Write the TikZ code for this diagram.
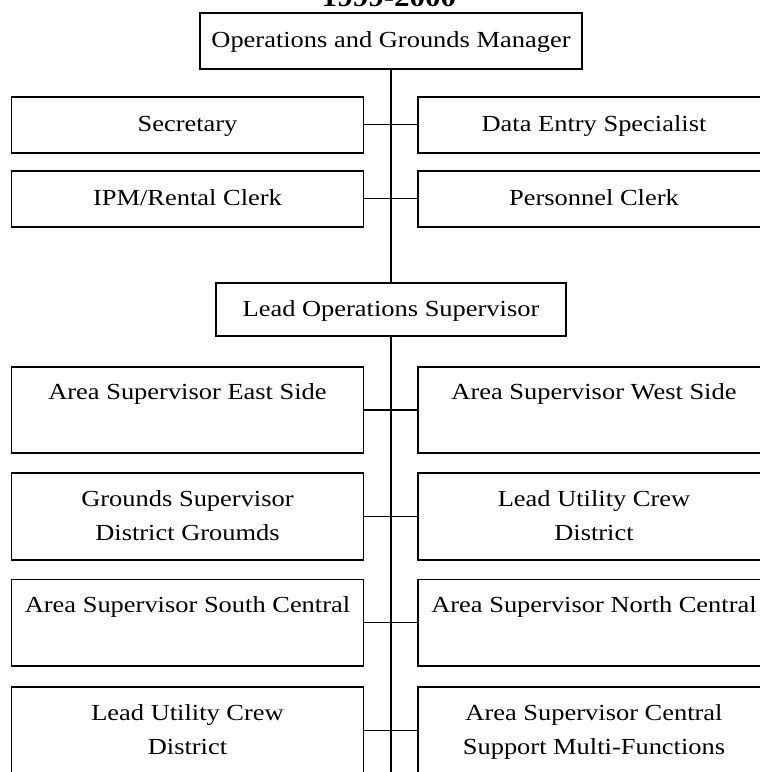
\documentclass[tikz,border=0pt]{standalone}
\usepackage{fontspec}
\setmainfont{Liberation Serif}[FakeStretch=1.15]
\begin{document}
\begin{tikzpicture}[x=1pt,y=-1pt,
  box/.style={draw=black, line width=1.7pt, inner sep=0pt, align=center,
    font=\fontsize{23}{34}\selectfont, fill=white},
  wide/.style={box, minimum width=352pt},
  link/.style={draw=black, line width=1.4pt}]
\useasboundingbox[fill=white] (0,0) rectangle (760,772);
\node[font=\fontsize{27}{30}\selectfont\bfseries, anchor=base] (title) at (389,6) {1999-2000};
\node[box, minimum width=382pt, minimum height=56.6pt] (ops) at (391,41) {\strut Operations and Grounds Manager};
\node[wide, minimum height=56pt] (sec) at (187.5,124.7) {\strut Secretary};
\node[wide, minimum height=56pt] (dat) at (594,124.7) {\strut Data Entry Specialist};
\node[wide, minimum height=56pt] (ipm) at (187.5,198.7) {\strut IPM/Rental Clerk};
\node[wide, minimum height=56pt] (per) at (594,198.7) {\strut Personnel Clerk};
\node[box, minimum width=350pt, minimum height=53.3pt] (lead) at (391,309.3) {\strut Lead Operations Supervisor};
\node[wide, minimum height=85.4pt] (east) at (187.5,410) {\strut Area Supervisor East Side\\\strut};
\node[wide, minimum height=85.4pt] (west) at (594,410) {\strut Area Supervisor West Side\\\strut};
\node[wide, minimum height=87.3pt] (grnd) at (187.5,516.3) {\strut Grounds Supervisor\\\strut District Groumds};
\node[wide, minimum height=87.3pt] (luca) at (594,516.3) {\strut Lead Utility Crew\\\strut District};
\node[wide, minimum height=86.7pt] (south) at (187.5,622.7) {\strut Area Supervisor South Central\\\strut};
\node[wide, minimum height=86.7pt] (north) at (594,622.7) {\strut Area Supervisor North Central\\\strut};
\node[wide, minimum height=86pt] (lucb) at (187.5,730.3) {\strut Lead Utility Crew\\\strut District};
\node[wide, minimum height=86pt] (cen) at (594,730.3) {\strut Area Supervisor Central\\\strut Support Multi-Functions};
\coordinate (bot) at (391,790);
\draw[link] (ops) -- (lead);
\draw[link] (lead) -- (bot);
\draw[link] (sec) -- (dat);
\draw[link] (ipm) -- (per);
\draw[link] (east) -- (west);
\draw[link] (grnd) -- (luca);
\draw[link] (south) -- (north);
\draw[link] (lucb) -- (cen);
\end{tikzpicture}
\end{document}
